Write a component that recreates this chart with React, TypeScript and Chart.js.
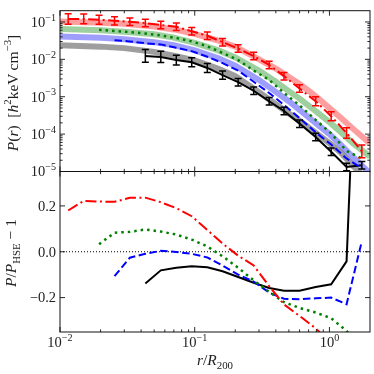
import React, { useEffect, useRef } from "react";
import { Chart, registerables } from "chart.js";

Chart.register(...registerables);

// ---------------- data ----------------
// radial bins r/R200 of the measured profiles
const radius = [0.0115, 0.015, 0.0195, 0.0254, 0.033, 0.043, 0.056, 0.073, 0.095, 0.124, 0.161, 0.21, 0.274, 0.357, 0.46, 0.6, 0.79, 1.03, 1.34, 1.74];

// measured pressure, log10 P  (null = no point)
const redLogP = [-0.92, -0.92, -0.94, -0.97, -0.995, -1.03, -1.08, -1.13, -1.25, -1.37, -1.54, -1.71, -1.91, -2.15, -2.45, -2.78, -3.12, -3.52, -3.97, -4.46];
const greenLogP = [null, null, -1.21, -1.24, -1.27, -1.31, -1.36, -1.43, -1.52, -1.65, -1.83, -2.02, -2.3, -2.55, -2.9, -3.23, -3.62, -3.98, -4.45, -4.65];
const blueLogP = [null, null, null, -1.49, -1.52, -1.57, -1.6, -1.69, -1.78, -1.93, -2.1, -2.3, -2.6, -2.9, -3.22, -3.57, -3.95, -4.28, -4.65, -4.92];
const blackLogP = [null, null, null, null, null, -1.91, -1.935, -2.02, -2.08, -2.23, -2.42, -2.61, -2.84, -3.12, -3.38, -3.72, -4.08, -4.47, -4.88, -4.83];

// error bar half-widths in decades
const redErr = [0.14, 0.13, 0.12, 0.11, 0.1, 0.1, 0.1, 0.1, 0.1, 0.1, 0.1, 0.1, 0.1, 0.1, 0.1, 0.1, 0.12, 0.12, 0.14, 0.17];
const blackErr = [null, null, null, null, null, 0.17, 0.15, 0.13, 0.12, 0.12, 0.11, 0.1, 0.1, 0.1, 0.1, 0.1, 0.1, 0.1, 0.1, 0.1];

// hydrostatic-equilibrium model curves, log10 P
const hseRadius = [0.01, 0.02, 0.03, 0.05, 0.07, 0.1, 0.15, 0.2, 0.3, 0.4, 0.5, 0.6, 0.7, 0.8, 1.0, 1.2, 1.5, 2.0];
const redHseLogP = [-0.99, -1.02, -1.05, -1.12, -1.2, -1.32, -1.5, -1.66, -2.0, -2.25, -2.47, -2.66, -2.84, -3.0, -3.3, -3.55, -3.86, -4.25];
const greenHseLogP = [-1.19, -1.22, -1.26, -1.33, -1.42, -1.56, -1.76, -1.95, -2.3, -2.6, -2.85, -3.05, -3.24, -3.4, -3.68, -3.93, -4.25, -4.6];
const blueHseLogP = [-1.39, -1.42, -1.46, -1.54, -1.62, -1.76, -1.97, -2.17, -2.55, -2.87, -3.12, -3.35, -3.55, -3.72, -4.0, -4.27, -4.62, -5.05];
const blackHseLogP = [-1.62, -1.66, -1.7, -1.8, -1.9, -2.03, -2.25, -2.45, -2.88, -3.2, -3.45, -3.64, -3.82, -3.98, -4.24, -4.48, -4.85, -5.3];

// P / P_HSE - 1
const redRatio = [0.18, 0.222, 0.219, 0.218, 0.235, 0.236, 0.216, 0.19, 0.155, 0.095, 0.036, -0.017, -0.06, -0.15, -0.23, -0.28, -0.334, -0.4, null, null];
const greenRatio = [null, null, 0.033, 0.083, 0.087, 0.097, 0.088, 0.075, 0.053, 0.023, -0.02, -0.07, -0.125, -0.175, -0.22, -0.245, -0.265, -0.29, -0.345, -0.44];
const blueRatio = [null, null, null, -0.106, -0.026, -0.009, 0.004, -0.001, -0.009, -0.025, -0.06, -0.1, -0.13, -0.178, -0.205, -0.207, -0.203, -0.2, -0.229, 0.046];
const blackRatio = [null, null, null, null, null, -0.138, -0.081, -0.07, -0.063, -0.068, -0.085, -0.11, -0.135, -0.158, -0.17, -0.17, -0.154, -0.142, -0.042, 1.6];

// axes
const xMin = 0.01;
const xMax = 2.0;
const xMajorTicks = [0.01, 0.1, 1];
const xTickExponents = ["\u22122", "\u22121", "0"];
const yTopMin = 1e-5;
const yTopMax = 0.2;
const yTopMajorTicks = [1e-1, 1e-2, 1e-3, 1e-4, 1e-5];
const yTopTickExponents = ["\u22121", "\u22122", "\u22123", "\u22124", "\u22125"];
const yBotMin = -0.35;
const yBotMax = 0.35;
const yBotTicks = [0.2, 0.0, -0.2];
const yBotTickLabels = ["0.2", "0.0", "\u22120.2"];

// ---------------- styling ----------------
const RED = "#ff0000";
const GREEN = "#008000";
const BLUE = "#0000ff";
const BLACK = "#000000";
const FONT = '"Liberation Serif", "Times New Roman", serif';
const TICK_SIZE = 14.5;
const TITLE_SIZE = 15.5;
const W = 374;
const H = 374;
const PLOT_LEFT = 60;
const PLOT_RIGHT = 370;
const PLOT_TOP = 10.7;
const PANEL_SPLIT = 171.5;
const PLOT_BOTTOM = 332;

type Seg = { t: string; it?: boolean; sup?: boolean; sub?: boolean };

function segFont(s: Seg, size: number) {
  const sz = s.sup || s.sub ? size * 0.7 : size;
  return `${s.it ? "italic " : ""}${sz}px ${FONT}`;
}

function drawRich(ctx: CanvasRenderingContext2D, segs: Seg[], x: number, y: number, size: number, align: string) {
  const widths = segs.map((s) => {
    ctx.font = segFont(s, size);
    return ctx.measureText(s.t).width;
  });
  const total = widths.reduce((a, b) => a + b, 0);
  let cx = align === "center" ? x - total / 2 : align === "right" ? x - total : x;
  ctx.textAlign = "left";
  ctx.textBaseline = "alphabetic";
  segs.forEach((s, i) => {
    ctx.font = segFont(s, size);
    const dy = s.sup ? -size * 0.42 : s.sub ? size * 0.25 : 0;
    ctx.fillText(s.t, cx, y + dy);
    cx += widths[i];
  });
}

function logMinorTicks(min: number, max: number) {
  const out: number[] = [];
  for (let e = Math.floor(Math.log10(min)); e <= Math.ceil(Math.log10(max)); e++) {
    for (let m = 2; m <= 9; m++) {
      const v = m * Math.pow(10, e);
      if (v > min && v < max) out.push(v);
    }
  }
  return out;
}

function points(xs: number[], ys: (number | null)[], log: boolean) {
  const out: { x: number; y: number }[] = [];
  ys.forEach((v, i) => {
    if (v !== null && v !== undefined) out.push({ x: xs[i], y: log ? Math.pow(10, v) : v });
  });
  return out;
}

function lineDs(data: any[], color: string, width: number, dash: number[], order: number) {
  return {
    data,
    borderColor: color,
    backgroundColor: color,
    borderWidth: width,
    borderDash: dash,
    pointRadius: 0,
    tension: 0,
    fill: false,
    clip: 0,
    order,
  };
}

function drawFrameAndTicks(chart: any, yMajor: number[], yMinor: number[]) {
  const { ctx, chartArea: a, scales } = chart;
  const x = scales.x;
  const y = scales.y;
  ctx.save();
  ctx.strokeStyle = "#111";
  ctx.lineWidth = 1;
  ctx.strokeRect(a.left, a.top, a.right - a.left, a.bottom - a.top);
  ctx.lineWidth = 0.9;
  const xMinor = logMinorTicks(xMin, xMax);
  const xt: [number, number][] = [
    ...xMajorTicks.map((v) => [v, 5] as [number, number]),
    ...xMinor.map((v) => [v, 2.6] as [number, number]),
  ];
  ctx.beginPath();
  xt.forEach(([v, len]) => {
    const px = x.getPixelForValue(v);
    if (px < a.left - 0.5 || px > a.right + 0.5) return;
    ctx.moveTo(px, a.bottom);
    ctx.lineTo(px, a.bottom - len);
    ctx.moveTo(px, a.top);
    ctx.lineTo(px, a.top + len);
  });
  const yt: [number, number][] = [
    ...yMajor.map((v) => [v, 5] as [number, number]),
    ...yMinor.map((v) => [v, 2.6] as [number, number]),
  ];
  yt.forEach(([v, len]) => {
    const py = y.getPixelForValue(v);
    if (py < a.top - 0.5 || py > a.bottom + 0.5) return;
    ctx.moveTo(a.left, py);
    ctx.lineTo(a.left + len, py);
    ctx.moveTo(a.right, py);
    ctx.lineTo(a.right - len, py);
  });
  ctx.stroke();
  ctx.restore();
}

const topPlugin = {
  id: "topAxes",
  afterDatasetsDraw(chart: any) {
    const { ctx, chartArea: a, scales } = chart;
    const x = scales.x;
    const y = scales.y;
    // error bars
    ctx.save();
    ctx.beginPath();
    ctx.rect(a.left, a.top, a.right - a.left, a.bottom - a.top);
    ctx.clip();
    const series: [(number | null)[], (number | null)[], string][] = [
      [redLogP, redErr, RED],
      [blackLogP, blackErr, BLACK],
    ];
    ctx.lineWidth = 1.5;
    series.forEach(([vals, errs, color]) => {
      ctx.strokeStyle = color;
      ctx.beginPath();
      vals.forEach((v, i) => {
        const e = errs[i];
        if (v === null || e === null) return;
        const px = x.getPixelForValue(radius[i]);
        const y1 = y.getPixelForValue(Math.pow(10, v + e));
        const y2 = y.getPixelForValue(Math.pow(10, v - e));
        ctx.moveTo(px, y1);
        ctx.lineTo(px, y2);
        ctx.moveTo(px - 3.5, y1);
        ctx.lineTo(px + 3.5, y1);
        ctx.moveTo(px - 3.5, y2);
        ctx.lineTo(px + 3.5, y2);
      });
      ctx.stroke();
    });
    ctx.restore();
  },
  afterDraw(chart: any) {
    const { ctx, scales } = chart;
    const y = scales.y;
    drawFrameAndTicks(chart, yTopMajorTicks, logMinorTicks(yTopMin, yTopMax));
    ctx.save();
    ctx.fillStyle = "#222";
    yTopMajorTicks.forEach((v, i) => {
      const py = y.getPixelForValue(v);
      drawRich(ctx, [{ t: "10" }, { t: yTopTickExponents[i], sup: true }], 56, py + TICK_SIZE * 0.33, TICK_SIZE, "right");
    });
    ctx.translate(18, 93);
    ctx.rotate(-Math.PI / 2);
    drawRich(
      ctx,
      [
        { t: "P", it: true },
        { t: "(" },
        { t: "r", it: true },
        { t: ")  [" },
        { t: "h", it: true },
        { t: "2", sup: true },
        { t: "keV\u2009cm" },
        { t: "\u22123", sup: true },
        { t: "]" },
      ],
      0,
      0,
      TITLE_SIZE,
      "center"
    );
    ctx.restore();
  },
};

const bottomPlugin = {
  id: "bottomAxes",
  afterDraw(chart: any) {
    const { ctx, scales } = chart;
    const x = scales.x;
    const y = scales.y;
    drawFrameAndTicks(chart, yBotTicks, []);
    ctx.save();
    ctx.fillStyle = "#222";
    yBotTicks.forEach((v, i) => {
      const py = y.getPixelForValue(v);
      drawRich(ctx, [{ t: yBotTickLabels[i] }], 56, py + TICK_SIZE * 0.33, TICK_SIZE, "right");
    });
    xMajorTicks.forEach((v, i) => {
      const px = x.getPixelForValue(v);
      drawRich(ctx, [{ t: "10" }, { t: xTickExponents[i], sup: true }], px, 347, TICK_SIZE, "center");
    });
    drawRich(
      ctx,
      [{ t: "r", it: true }, { t: "/" }, { t: "R", it: true }, { t: "200", sub: true }],
      215,
      365,
      TITLE_SIZE,
      "center"
    );
    ctx.translate(16, 253);
    ctx.rotate(-Math.PI / 2);
    drawRich(
      ctx,
      [{ t: "P", it: true }, { t: "/" }, { t: "P", it: true }, { t: "HSE", sub: true }, { t: " \u2212 1" }],
      0,
      0,
      TITLE_SIZE,
      "center"
    );
    ctx.restore();
  },
};

function baseOptions(padding: any, yScale: any) {
  return {
    animation: false,
    responsive: false,
    maintainAspectRatio: false,
    events: [],
    layout: { padding },
    plugins: { legend: { display: false }, tooltip: { enabled: false } },
    scales: {
      x: { type: "logarithmic", min: xMin, max: xMax, display: false },
      y: yScale,
    },
  };
}

function topConfig(): any {
  return {
    type: "line",
    data: {
      datasets: [
        lineDs(points(hseRadius, redHseLogP, true), "rgba(255,0,0,0.38)", 6, [], 10),
        lineDs(points(hseRadius, greenHseLogP, true), "rgba(0,128,0,0.38)", 6, [], 10),
        lineDs(points(hseRadius, blueHseLogP, true), "rgba(0,0,255,0.38)", 6, [], 10),
        lineDs(points(hseRadius, blackHseLogP, true), "rgba(0,0,0,0.38)", 6, [], 10),
        lineDs(points(radius, redLogP, true), RED, 2, [11, 3.5, 2, 3.5], 1),
        lineDs(points(radius, greenLogP, true), GREEN, 2.5, [2.5, 4], 1),
        lineDs(points(radius, blueLogP, true), BLUE, 2, [7.5, 3.5], 1),
        lineDs(points(radius, blackLogP, true), BLACK, 2, [], 1),
      ],
    },
    options: baseOptions(
      { left: PLOT_LEFT, right: W - PLOT_RIGHT, top: PLOT_TOP, bottom: H - PANEL_SPLIT },
      { type: "logarithmic", min: yTopMin, max: yTopMax, display: false }
    ),
    plugins: [topPlugin],
  };
}

function bottomConfig(): any {
  return {
    type: "line",
    data: {
      datasets: [
        lineDs([{ x: xMin, y: 0 }, { x: xMax, y: 0 }], BLACK, 1, [1, 2], 5),
        lineDs(points(radius, redRatio, false), RED, 2, [11, 3.5, 2, 3.5], 1),
        lineDs(points(radius, greenRatio, false), GREEN, 2.5, [2.5, 4], 1),
        lineDs(points(radius, blueRatio, false), BLUE, 2, [7.5, 3.5], 1),
        lineDs(points(radius, blackRatio, false), BLACK, 2, [], 1),
      ],
    },
    options: baseOptions(
      { left: PLOT_LEFT, right: W - PLOT_RIGHT, top: PANEL_SPLIT, bottom: H - PLOT_BOTTOM },
      { type: "linear", min: yBotMin, max: yBotMax, display: false }
    ),
    plugins: [bottomPlugin],
  };
}

export default function App() {
  const topRef = useRef<HTMLCanvasElement>(null);
  const botRef = useRef<HTMLCanvasElement>(null);
  useEffect(() => {
    const top = new Chart(topRef.current as HTMLCanvasElement, topConfig());
    const bot = new Chart(botRef.current as HTMLCanvasElement, bottomConfig());
    return () => {
      top.destroy();
      bot.destroy();
    };
  }, []);
  const cs: React.CSSProperties = { position: "absolute", left: 0, top: 0, width: W, height: H };
  return (
    <div style={{ position: "fixed", left: 0, top: 0, width: W, height: H, background: "#fff" }}>
      <canvas ref={topRef} width={W} height={H} style={cs} />
      <canvas ref={botRef} width={W} height={H} style={cs} />
    </div>
  );
}
